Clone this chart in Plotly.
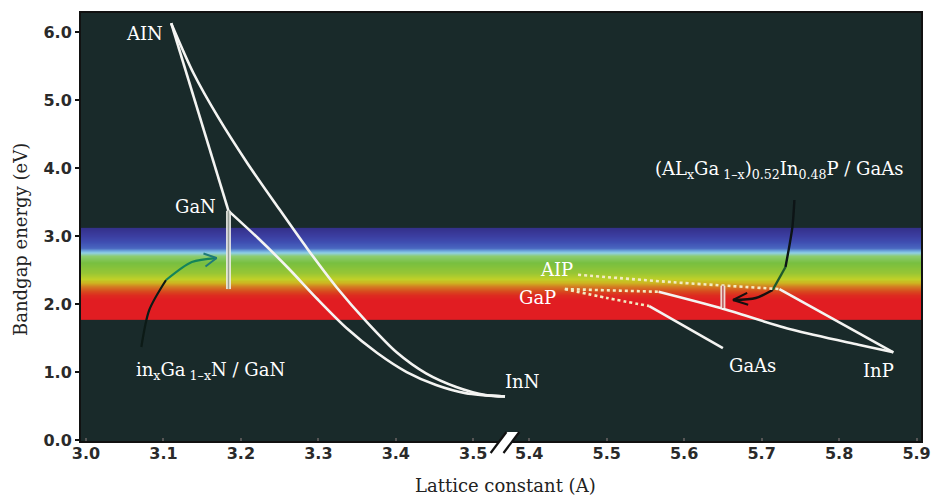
import numpy as np
import plotly.graph_objects as go

# ---------------- data (lattice constant in Angstrom, bandgap in eV) ----------------
# nitride branch (left part of the broken axis)
aln_gan_a = [3.110, 3.184]
aln_gan_e = [6.13, 3.37]

aln_inn_a = [3.110, 3.139, 3.171, 3.209, 3.248, 3.286, 3.324, 3.363, 3.401, 3.439, 3.478, 3.516, 3.541]
aln_inn_e = [6.13, 5.39, 4.74, 4.06, 3.42, 2.81, 2.24, 1.73, 1.29, 0.98, 0.78, 0.66, 0.64]

gan_inn_a = [3.184, 3.222, 3.261, 3.299, 3.337, 3.376, 3.414, 3.452, 3.490, 3.541]
gan_inn_e = [3.37, 2.97, 2.53, 2.07, 1.64, 1.28, 1.00, 0.81, 0.69, 0.64]

ingan_match_a = [3.184, 3.184]
ingan_match_e = [3.37, 2.22]

# phosphide / arsenide branch (right part of the broken axis)
alp_inp_dot_a = [5.463, 5.586, 5.723]
alp_inp_dot_e = [2.43, 2.32, 2.22]
alp_inp_a = [5.723, 5.870]
alp_inp_e = [2.22, 1.29]

gap_inp_dot_a = [5.446, 5.567]
gap_inp_dot_e = [2.22, 2.18]
gap_inp_a = [5.567, 5.647, 5.740, 5.825, 5.870]
gap_inp_e = [2.18, 1.94, 1.62, 1.40, 1.29]

gap_gaas_dot_a = [5.446, 5.500, 5.555]
gap_gaas_dot_e = [2.22, 2.09, 1.97]
gap_gaas_a = [5.555, 5.650]
gap_gaas_e = [1.97, 1.35]

algainp_match_a = [5.650, 5.650]
algainp_match_e = [2.27, 1.94]

# curved pointer arrows
ingan_arrow_a = [3.0715, 3.0817, 3.1034, 3.1367, 3.1686]
ingan_arrow_e = [1.368, 1.912, 2.353, 2.618, 2.676]
algainp_arrow_a = [5.7423, 5.7397, 5.7308, 5.7142, 5.6925, 5.6631]
algainp_arrow_e = [3.529, 3.132, 2.544, 2.206, 2.088, 2.059]

# visible spectrum band
band_energy = [1.765, 2.05, 2.12, 2.18, 2.25, 2.31, 2.36, 2.45, 2.60, 2.70, 2.75, 2.78, 2.82, 2.90, 3.00, 3.12]
band_color = ['#e11d22', '#e11d22', '#dd2a20', '#d8481e', '#d47a22', '#cdb521', '#c0d028', '#98c634',
              '#78bf40', '#8ccc70', '#8fd0e6', '#6fa8dc', '#4a68c0', '#3f4fb2', '#3b3ea0', '#34308a']

# material labels: name, axis, lattice, gap, label offset (px)
mat_names = ['AIN', 'GaN', 'InN', 'AIP', 'GaP', 'GaAs', 'InP']
mat_axis = ['x2', 'x2', 'x2', 'x3', 'x3', 'x3', 'x3']
mat_a = [3.110, 3.184, 3.541, 5.463, 5.446, 5.650, 5.870]
mat_e = [6.13, 3.37, 0.64, 2.43, 2.22, 1.35, 1.29]
mat_dx = [-27, -33, 17, -22, -27, 30, -15]
mat_dy = [-10, 4, 15, 5, -8, -17, -18]

left_ticks = [3.0, 3.1, 3.2, 3.3, 3.4, 3.5]
right_ticks = [5.4, 5.5, 5.6, 5.7, 5.8, 5.9]
y_ticks = [0.0, 1.0, 2.0, 3.0, 4.0, 5.0, 6.0]

x_title = 'Lattice constant (A)'
y_title = 'Bandgap energy (eV)'
ingan_label = 'in<sub>x</sub>Ga<sub> 1–x</sub>N / GaN'
algainp_label = '(AL<sub>x</sub>Ga<sub> 1–x</sub>)<sub>0.52</sub>In<sub>0.48</sub>P / GaAs'

# ---------------- figure ----------------
W, H = 941, 497
ML, MR, MT, MB = 80, 10, 12, 55
LEFT_RANGE = [2.9923, 3.5441]
RIGHT_RANGE = [5.3719, 5.9070]
Y_RANGE = [-0.029, 6.294]
SPLIT = 0.50764
PX_PER_A = 783.0
PX_PER_EV = 68.0

BG = '#192a2a'
WHITE = '#f4f4f2'
DOTC = '#f2ecc2'

fig = go.Figure()

# spectrum band: one heatmap on a hidden full-width x axis
edges = np.linspace(band_energy[0], band_energy[-1], 272)
centers = (edges[:-1] + edges[1:]) / 2
span = band_energy[-1] - band_energy[0]
cscale = [[(e - band_energy[0]) / span, c] for e, c in zip(band_energy, band_color)]
fig.add_trace(go.Heatmap(
    x=[-0.01, 1.01], y=edges, z=[[v] for v in centers],
    colorscale=cscale, zmin=band_energy[0], zmax=band_energy[-1],
    showscale=False, zsmooth=False, hoverinfo='skip', xaxis='x', yaxis='y'))


def line(xs, ys, xa, color, width, dash='solid', shape='spline', smoothing=0.8):
    fig.add_trace(go.Scatter(x=xs, y=ys, xaxis=xa, yaxis='y', mode='lines',
                             line=dict(color=color, width=width, dash=dash, shape=shape,
                                       smoothing=smoothing if shape == 'spline' else None),
                             hoverinfo='skip', showlegend=False))


def chevron(xs, ys, xa, color, length, half_angle):
    # open arrowhead at the last point, oriented along the last segment (pixel space)
    dxp = (xs[-1] - xs[-2]) * PX_PER_A
    dyp = (ys[-1] - ys[-2]) * PX_PER_EV
    ang = np.arctan2(dyp, dxp)
    pts_x, pts_y = [], []
    for s in (1, -1):
        a = ang + np.pi - s * half_angle
        pts_x.append(xs[-1] + length * np.cos(a) / PX_PER_A)
        pts_y.append(ys[-1] + length * np.sin(a) / PX_PER_EV)
    line([pts_x[0], xs[-1], pts_x[1]], [pts_y[0], ys[-1], pts_y[1]], xa, color, 2, shape='linear')


# arrows
line(ingan_arrow_a[:3], ingan_arrow_e[:3], 'x2', '#0c1a16', 2.2)
line(ingan_arrow_a[2:], ingan_arrow_e[2:], 'x2', '#14845a', 2.2)
chevron(ingan_arrow_a, ingan_arrow_e, 'x2', '#1f7a78', 14, np.radians(28))

line(algainp_arrow_a[:3], algainp_arrow_e[:3], 'x3', '#0d1416', 2.4)
line(algainp_arrow_a[2:4], algainp_arrow_e[2:4], 'x3', '#1d5a2c', 2.4)
line(algainp_arrow_a[3:], algainp_arrow_e[3:], 'x3', '#141010', 2.4)
chevron(algainp_arrow_a, algainp_arrow_e, 'x3', '#121010', 16, np.radians(22))

# nitride curves
line(aln_gan_a, aln_gan_e, 'x2', WHITE, 2.6, shape='linear')
line(aln_inn_a, aln_inn_e, 'x2', WHITE, 2.6)
line(gan_inn_a, gan_inn_e, 'x2', WHITE, 2.6)
line(ingan_match_a, ingan_match_e, 'x2', 'rgba(235,235,230,0.9)', 5, shape='linear')
line(ingan_match_a, ingan_match_e, 'x2', 'rgba(120,130,120,0.7)', 1.4, shape='linear')

# phosphide curves
line(alp_inp_dot_a, alp_inp_dot_e, 'x3', DOTC, 2.6, dash='dot')
line(alp_inp_a, alp_inp_e, 'x3', WHITE, 2.6, shape='linear')
line(gap_inp_dot_a, gap_inp_dot_e, 'x3', DOTC, 2.6, dash='dot', shape='linear')
line(gap_inp_a, gap_inp_e, 'x3', WHITE, 2.6)
line(gap_gaas_dot_a, gap_gaas_dot_e, 'x3', DOTC, 2.6, dash='dot')
line(gap_gaas_a, gap_gaas_e, 'x3', WHITE, 2.6, shape='linear')
line(algainp_match_a, algainp_match_e, 'x3', 'rgba(240,235,230,0.9)', 5, shape='linear')
line(algainp_match_a, algainp_match_e, 'x3', 'rgba(170,40,40,0.8)', 1.4, shape='linear')

# ---------------- annotations ----------------
serif = dict(family='DejaVu Serif', size=18, color='white')
ann = []
for n, xa, a, e, dx, dy in zip(mat_names, mat_axis, mat_a, mat_e, mat_dx, mat_dy):
    ann.append(dict(text=n, x=a, y=e, xref=xa, yref='y', xshift=dx, yshift=dy,
                    showarrow=False, font=serif, xanchor='center', yanchor='middle'))
ann.append(dict(text=ingan_label, x=ingan_arrow_a[0], y=ingan_arrow_e[0], xref='x2', yref='y',
                xshift=69, yshift=-24, showarrow=False, font=serif,
                xanchor='center', yanchor='middle'))
ann.append(dict(text=algainp_label, x=algainp_arrow_a[0], y=algainp_arrow_e[0], xref='x3', yref='y',
                xshift=-15, yshift=30, showarrow=False, font=serif,
                xanchor='center', yanchor='middle'))
ann.append(dict(text=x_title, x=0.5053, y=-0.1, xref='paper', yref='paper', showarrow=False,
                font=dict(family='DejaVu Serif', size=18, color='#222'),
                xanchor='center', yanchor='middle'))
ann.append(dict(text=y_title, x=-0.07, y=0.47, xref='paper', yref='paper', showarrow=False,
                textangle=-90, font=dict(family='DejaVu Serif', size=18, color='#222'),
                xanchor='center', yanchor='middle'))

# dark plot background (below traces), frame and axis-break marks
shapes = [dict(type='rect', xref='paper', yref='paper', x0=0, x1=1, y0=0, y1=1,
               fillcolor=BG, line=dict(width=0), layer='below'),
          dict(type='rect', xref='paper', yref='paper', x0=0, x1=1, y0=0, y1=1,
               line=dict(color='#111', width=2), layer='above')]
s1b, s1t = (0.48766, -0.02558), (0.50646, 0.02326)
s2b, s2t = (0.50294, -0.02558), (0.52174, 0.02326)
shapes.append(dict(type='path', xref='paper', yref='paper',
                   path=f'M {s1b[0]},{s1b[1]} L {s1t[0]},{s1t[1]} L {s2t[0]},{s2t[1]} L {s2b[0]},{s2b[1]} Z',
                   fillcolor='white', line=dict(width=0), layer='above'))
for b, t in ((s1b, s1t), (s2b, s2t)):
    shapes.append(dict(type='line', xref='paper', yref='paper', x0=b[0], y0=b[1], x1=t[0], y1=t[1],
                       line=dict(color='#111', width=2.2), layer='above'))

tickfont = dict(family='DejaVu Sans', size=16, color='#2a2a2a', weight='bold')
xcommon = dict(showgrid=False, zeroline=False, showline=False, ticks='inside', ticklen=4,
               tickcolor='#555', tickwidth=1.5, tickfont=tickfont, tickformat='.1f',
               anchor='y', fixedrange=True)

fig.update_layout(
    width=W, height=H,
    margin=dict(l=ML, r=MR, t=MT, b=MB),
    paper_bgcolor='white', plot_bgcolor='rgba(0,0,0,0)',
    showlegend=False,
    xaxis=dict(domain=[0, 1], range=[0, 1], visible=False, showgrid=False, zeroline=False,
               anchor='y', fixedrange=True),
    xaxis2=dict(domain=[0, SPLIT], range=LEFT_RANGE, tickvals=left_ticks, **xcommon),
    xaxis3=dict(domain=[SPLIT, 1], range=RIGHT_RANGE, tickvals=right_ticks, **xcommon),
    yaxis=dict(range=Y_RANGE, tickvals=y_ticks, tickformat='.1f', showgrid=False, zeroline=False,
               showline=False, ticks='outside', ticklen=4, tickcolor='#111', tickwidth=2,
               tickfont=tickfont, fixedrange=True),
    annotations=ann, shapes=shapes,
)

# remove the browser's default page margin so the figure sits at the window origin
fig.write_html('out.html', config={'displayModeBar': False},
               post_script="document.body.style.margin='0px';document.body.style.overflow='hidden';")
